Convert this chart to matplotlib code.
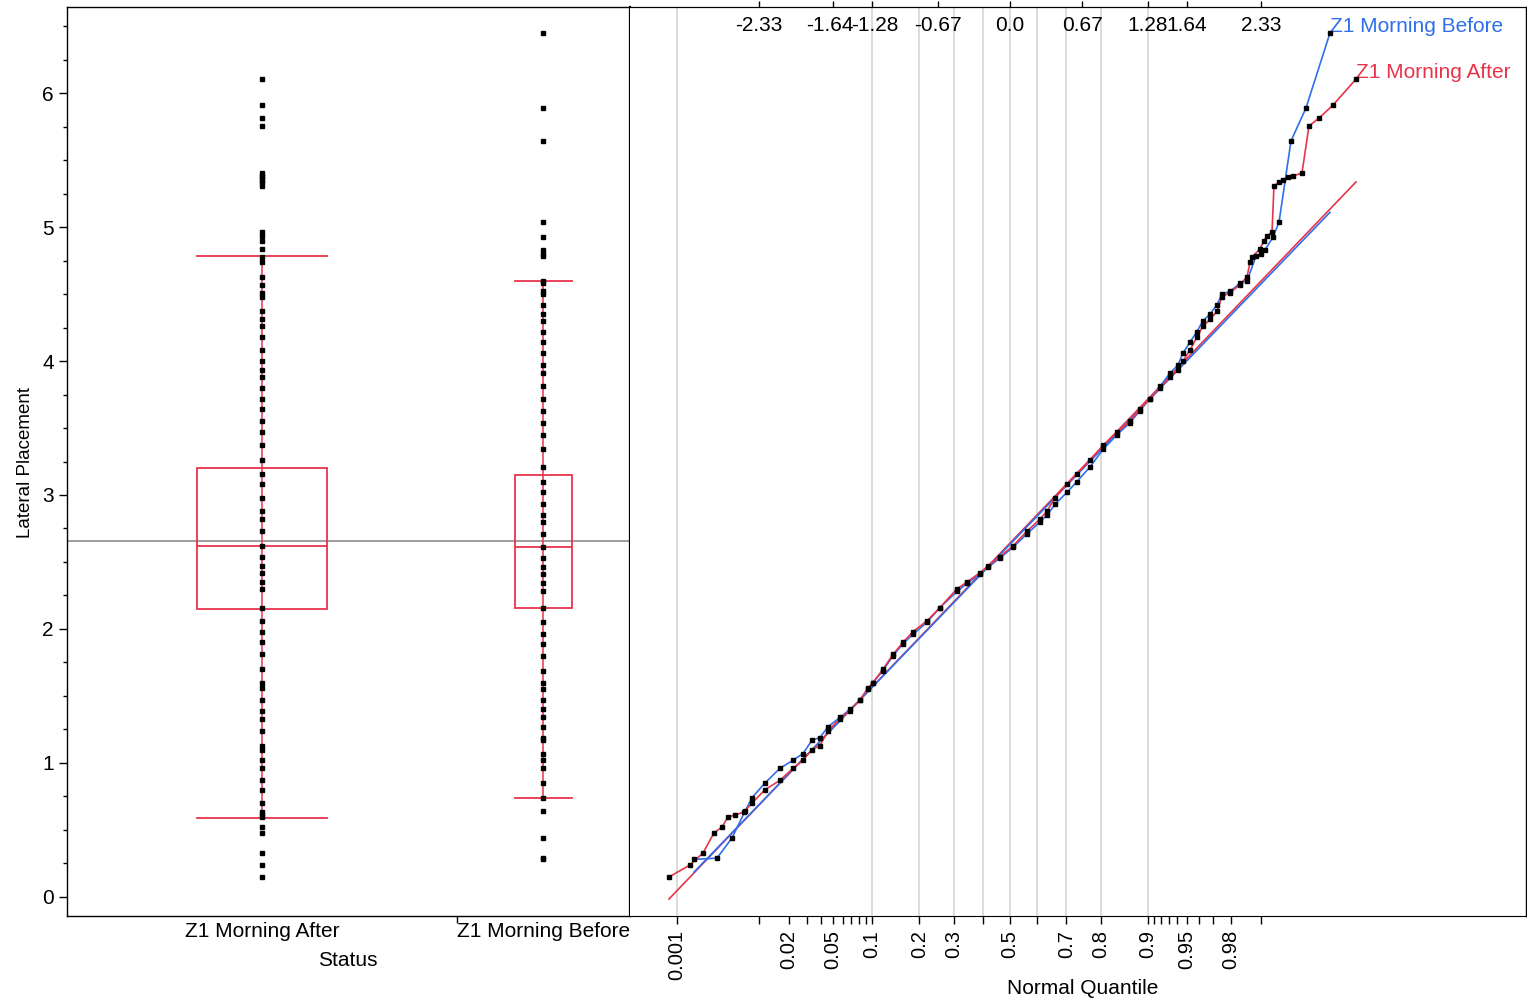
import numpy as np
import matplotlib
matplotlib.use("Agg")
import matplotlib.pyplot as plt
from matplotlib.patches import Rectangle
import matplotlib.transforms as mtransforms

plt.rcParams["font.family"] = ["Liberation Sans", "DejaVu Sans"]

# groups (order on the left panel) and their sizes (box widths are proportional)
groups = ["Z1 Morning After", "Z1 Morning Before"]
group_n = [1510, 670]

# box plot statistics
q1 = [2.15, 2.16]
median = [2.62, 2.61]
q3 = [3.20, 3.15]
whisker_lo = [0.59, 0.74]
whisker_hi = [4.78, 4.60]
grand_mean = 2.657

# normal-quantile fits (mean, sd)
fit_mean = [2.641, 2.632]
fit_sd = [0.839, 0.834]

# sorted values and their normal quantiles
after_nq = [-3.166, -2.971, -2.851, -2.748, -2.674, -2.618, -2.553, -2.470,
            -2.396, -2.275, -2.136, -2.015, -1.922, -1.838, -1.764, -1.690,
            -1.578, -1.486, -1.393, -1.318, -1.272, -1.179, -1.086, -0.994,
            -0.901, -0.771, -0.650, -0.492, -0.399, -0.279, -0.204, -0.093,
            0.028, 0.158, 0.279, 0.344, 0.418, 0.529, 0.622, 0.743, 0.864,
            0.994, 1.114, 1.207, 1.300, 1.393, 1.486, 1.560, 1.606, 1.671,
            1.736, 1.792, 1.857, 1.922, 1.968, 2.043, 2.136, 2.201, 2.230,
            2.247, 2.321, 2.358, 2.386, 2.433, 2.451, 2.498, 2.535, 2.581,
            2.628, 2.711, 2.776, 2.869, 2.999, 3.213]
after_val = [0.149, 0.239, 0.328, 0.478, 0.522, 0.597, 0.612, 0.634,
             0.70, 0.80, 0.87, 0.96, 1.02, 1.10, 1.13, 1.24,
             1.33, 1.39, 1.47, 1.56, 1.60, 1.70, 1.81, 1.90,
             1.98, 2.06, 2.16, 2.30, 2.35, 2.42, 2.47, 2.54,
             2.62, 2.73, 2.82, 2.88, 2.98, 3.08, 3.16, 3.26, 3.37,
             3.47, 3.55, 3.64, 3.72, 3.80, 3.88, 3.93, 4.00, 4.08,
             4.18, 4.26, 4.31, 4.37, 4.48, 4.51, 4.57, 4.63, 4.74,
             4.776, 4.836, 4.896, 4.933, 4.963, 5.306, 5.336, 5.351, 5.373,
             5.381, 5.403, 5.754, 5.813, 5.910, 6.104]

before_nq = [-2.934, -2.721, -2.581, -2.460, -2.396, -2.275, -2.136, -2.015,
             -1.922, -1.838, -1.764, -1.690, -1.578, -1.486, -1.393, -1.318,
             -1.272, -1.179, -1.086, -0.994, -0.901, -0.771, -0.650, -0.492,
             -0.399, -0.279, -0.204, -0.093, 0.028, 0.158, 0.279, 0.344,
             0.418, 0.529, 0.622, 0.743, 0.864, 0.994, 1.114, 1.207, 1.300,
             1.393, 1.486, 1.560, 1.606, 1.671, 1.736, 1.792, 1.857, 1.922,
             1.968, 2.043, 2.136, 2.201, 2.284, 2.330, 2.368, 2.442, 2.498,
             2.609, 2.748, 2.971]
before_val = [0.28, 0.29, 0.44, 0.64, 0.74, 0.85, 0.96, 1.02,
              1.07, 1.17, 1.19, 1.27, 1.34, 1.40, 1.47, 1.55,
              1.60, 1.69, 1.80, 1.89, 1.96, 2.05, 2.16, 2.28,
              2.34, 2.41, 2.46, 2.53, 2.61, 2.71, 2.80, 2.85,
              2.93, 3.02, 3.10, 3.21, 3.34, 3.45, 3.54, 3.63, 3.72,
              3.81, 3.91, 3.97, 4.06, 4.14, 4.22, 4.30, 4.35, 4.42,
              4.50, 4.52, 4.58, 4.60, 4.78, 4.80, 4.83, 4.925, 5.037,
              5.642, 5.888, 6.448]

# probability axis
prob_ticks = [0.001, 0.01, 0.02, 0.03, 0.04, 0.05, 0.06, 0.07, 0.08, 0.09,
              0.1, 0.2, 0.3, 0.4, 0.5, 0.6, 0.7, 0.8, 0.9, 0.91, 0.92, 0.93,
              0.94, 0.95, 0.96, 0.97, 0.98, 0.99]
prob_labels = [0.001, 0.02, 0.05, 0.1, 0.2, 0.3, 0.5, 0.7, 0.8, 0.9, 0.95, 0.98]
prob_grid = [0.001, 0.1, 0.2, 0.3, 0.4, 0.5, 0.6, 0.7, 0.8, 0.9]
quant_ticks = [-2.33, -1.64, -1.28, -0.67, 0.0, 0.67, 1.28, 1.64, 2.33]

RED = "#e8344b"
BLUE = "#2f6fe9"
FS = 15


def norm_ppf(p):
    # Acklam's rational approximation of the inverse normal cdf
    a = [-3.969683028665376e+01, 2.209460984245205e+02, -2.759285104469687e+02,
         1.383577518672690e+02, -3.066479806614716e+01, 2.506628277459239e+00]
    b = [-5.447609879822406e+01, 1.615858368580409e+02, -1.556989798598866e+02,
         6.680131188771972e+01, -1.328068155288572e+01]
    c = [-7.784894002430293e-03, -3.223964580411365e-01, -2.400758277161838e+00,
         -2.549732539343734e+00, 4.374664141464968e+00, 2.938163982698783e+00]
    d = [7.784695709041462e-03, 3.224671290700398e-01, 2.445134137142996e+00,
         3.754408661907416e+00]
    plow = 0.02425
    if p < plow:
        q = np.sqrt(-2 * np.log(p))
        return (((((c[0]*q+c[1])*q+c[2])*q+c[3])*q+c[4])*q+c[5]) / \
               ((((d[0]*q+d[1])*q+d[2])*q+d[3])*q+1)
    if p > 1 - plow:
        q = np.sqrt(-2 * np.log(1 - p))
        return -(((((c[0]*q+c[1])*q+c[2])*q+c[3])*q+c[4])*q+c[5]) / \
                ((((d[0]*q+d[1])*q+d[2])*q+d[3])*q+1)
    q = p - 0.5
    r = q * q
    return (((((a[0]*r+a[1])*r+a[2])*r+a[3])*r+a[4])*r+a[5])*q / \
           (((((b[0]*r+b[1])*r+b[2])*r+b[3])*r+b[4])*r+1)


W, H = 1527, 1002
fig = plt.figure(figsize=(W / 100, H / 100), dpi=100)
axL = fig.add_axes([67 / W, 86 / H, 563 / W, 909 / H])
axR = fig.add_axes([630 / W, 86 / H, 896 / W, 909 / H], sharey=axL)

ylim = (-0.142, 6.642)

# ---- left panel: box plots with points ----
edges = np.concatenate([[0], np.cumsum(group_n) / np.sum(group_n)])
centers = (edges[:-1] + edges[1:]) / 2
strip_vals = [after_val, before_val]
for i in range(len(groups)):
    cw = edges[i + 1] - edges[i]
    hw = cw / 6
    cx = centers[i]
    axL.add_patch(Rectangle((cx - hw, q1[i]), 2 * hw, q3[i] - q1[i],
                            fill=False, ec=RED, lw=1.3, zorder=2))
    axL.plot([cx - hw, cx + hw], [median[i]] * 2, color=RED, lw=1.3, zorder=2)
    for w in (whisker_lo[i], whisker_hi[i]):
        axL.plot([cx - hw, cx + hw], [w, w], color=RED, lw=1.3, zorder=2)
    axL.plot([cx, cx], [whisker_lo[i], whisker_hi[i]], color=RED, lw=1.1, zorder=2)
    axL.plot([cx] * len(strip_vals[i]), strip_vals[i], ls="none", marker="s",
             ms=2.3, mfc="black", mec="black", zorder=3)

axL.axhline(grand_mean, color="#8c8c8c", lw=1.2, zorder=1)
axL.set_xlim(0, 1)
axL.set_ylim(*ylim)
axL.set_yticks(range(0, 7))
axL.set_yticks(np.arange(0, 6.6, 0.25), minor=True)
axL.tick_params(axis="y", which="major", length=6, width=1, labelsize=FS, direction="out")
axL.tick_params(axis="y", which="minor", length=3, width=1, direction="out")
axL.set_xticks(centers)
axL.set_xticklabels(groups)
axL.set_xticks([edges[1]], minor=True)
axL.tick_params(axis="x", which="major", length=0, labelsize=FS, pad=4)
axL.tick_params(axis="x", which="minor", length=5, width=1)
for s in axL.spines.values():
    s.set_linewidth(1.0)
axL.spines["right"].set_linewidth(1.6)

# ---- right panel: normal quantile plot ----
xlim = (-3.528, 4.791)
for p in prob_grid:
    axR.axvline(norm_ppf(p), color="#d6d6d6", lw=1.2, zorder=0)

nq = [after_nq, before_nq]
vals = [after_val, before_val]
cols = [RED, BLUE]
for i in range(len(groups)):
    z0, z1 = nq[i][0], nq[i][-1]
    axR.plot([z0, z1], [fit_mean[i] + fit_sd[i] * z0, fit_mean[i] + fit_sd[i] * z1],
             color=cols[i], lw=1.2, zorder=2)
for i in [1, 0]:
    axR.plot(nq[i], vals[i], color=cols[i], lw=1.2, zorder=3)
for i in range(len(groups)):
    axR.plot(nq[i], vals[i], ls="none", marker="s", ms=2.4,
             mfc="black", mec="black", zorder=4)

axR.annotate(groups[1], (before_nq[-1], before_val[-1]), xytext=(0, 5),
             textcoords="offset points", ha="left", va="center",
             color=BLUE, fontsize=FS)
axR.annotate(groups[0], (after_nq[-1], after_val[-1]), xytext=(0, 5),
             textcoords="offset points", ha="left", va="center",
             color=RED, fontsize=FS)

axR.set_xlim(*xlim)
axR.set_xticks([norm_ppf(p) for p in prob_labels])
axR.set_xticklabels([f"{p:g}" for p in prob_labels], rotation=90)
axR.set_xticks([norm_ppf(p) for p in prob_ticks if p not in prob_labels], minor=True)
axR.tick_params(axis="x", which="major", length=6, width=1, labelsize=14.5, pad=4)
axR.tick_params(axis="x", which="minor", length=6, width=1)
axR.tick_params(axis="y", which="both", left=False, labelleft=False)
axR.spines["left"].set_visible(False)
axR.spines["right"].set_linewidth(1.0)

top = axR.secondary_xaxis("top")
top.set_xticks(quant_ticks)
top.set_xticklabels([])
top.tick_params(length=4, width=1)
trans = mtransforms.blended_transform_factory(axR.transData, axR.transAxes)
# the two crowded labels are nudged apart a few pixels so they just touch
nudge = {-1.64: -3, -1.28: 3}
for q in quant_ticks:
    axR.annotate(f"{q:.2f}" if q != 0 else "0.0", (q, 0.980), xycoords=trans,
                 xytext=(nudge.get(q, 0), 0), textcoords="offset pixels",
                 ha="center", va="center", fontsize=FS)

fig.text(25 / W, 1 - 462 / H, "Lateral Placement", rotation=90,
         ha="center", va="center", fontsize=13.5)
fig.text(348 / W, 1 - 960 / H, "Status", ha="center", va="center", fontsize=FS)
fig.text(1083 / W, 1 - 988 / H, "Normal Quantile", ha="center", va="center", fontsize=FS)

fig.savefig("out.png", dpi=100)
